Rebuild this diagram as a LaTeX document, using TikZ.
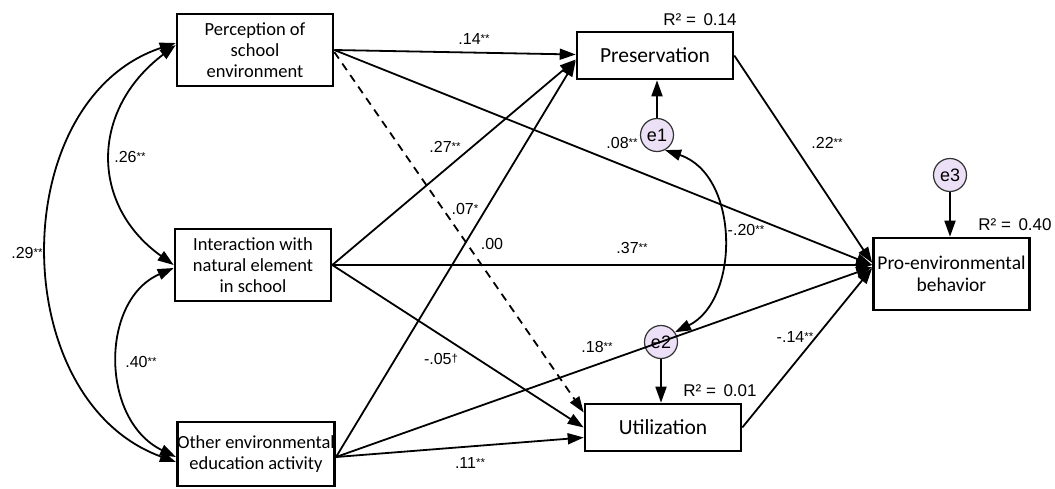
\documentclass[tikz,border=0pt]{standalone}
\usepackage{fontspec}
\setmainfont{Liberation Sans}
\newfontfamily\boxfont{Carlito}
\usetikzlibrary{arrows.meta}
\definecolor{ecol}{RGB}{236,224,246}
\newcommand\sg[1]{\raisebox{2pt}{\fontsize{11.5}{11.5}\selectfont #1}}
\begin{document}
\begin{tikzpicture}[x=1pt,y=-1pt,
 box/.style={draw, line width=2.6pt, minimum width=156pt, inner sep=0pt, align=center, font=\boxfont\fontsize{18.5}{21}\selectfont},
 bigbox/.style={box, font=\boxfont\fontsize{21.5}{22}\selectfont},
 err/.style={circle, draw=black!80, line width=1.2pt, fill=ecol, minimum size=33pt, inner sep=0pt, font=\fontsize{18}{18}\selectfont},
 arr/.style={line width=1.8pt, -{Triangle[length=16pt,width=11pt]}},
 cov/.style={line width=1.8pt, {Triangle[length=16pt,width=11pt]}-{Triangle[length=16pt,width=11pt]}},
 lab/.style={font=\fontsize{16}{16}\selectfont, inner sep=0pt},
 rlab/.style={font=\fontsize{17}{17}\selectfont, inner sep=0pt},
]
\fill[white] (0,0) rectangle (1055,488);
\useasboundingbox (0,0) rectangle (1055,488);

% boxes
\node[box, minimum height=72pt] (pse) at (255,50) {Perception of\\school\\environment};
\node[box, minimum height=72pt] (ines) at (253,265) {Interaction with\\natural element\\in school};
\node[box, minimum height=64pt] (oeea) at (256,454) {Other environmental\\education activity};
\node[bigbox, minimum height=47pt] (pres) at (655,55.5) {Preservation};
\node[bigbox, minimum height=47pt] (util) at (663,427.5) {Utilization};
\node[box, minimum height=72pt, font=\boxfont\fontsize{19.5}{22}\selectfont] (peb) at (951.5,274) {Pro-environmental\\behavior};

% error terms
\node[err] (e1) at (657,135) {e1};
\node[err] (e2) at (661,342) {e2};
\node[err] (e3) at (950,175) {e3};

% target points
\coordinate (pebin) at ([yshift=9pt]peb.west);

% paths to Preservation
\draw[arr] (pse.east) -- ([yshift=1pt]pres.west);
\draw[arr] (ines.east) -- ([yshift=-4pt]pres.west);
\draw[arr] ([yshift=-3pt]oeea.east) -- ([yshift=-5pt]pres.west);

% paths to Utilization
\draw[arr, dashed, dash pattern=on 8pt off 6pt] ([yshift=-2pt]pse.east) -- ([yshift=15pt]util.west);
\draw[arr] (ines.east) -- (util.west);
\draw[arr] ([yshift=-3pt]oeea.east) -- ([yshift=-10pt]util.west);

% paths to Pro-environmental behavior
\draw[arr] (pse.east) -- (pebin);
\draw[arr] (ines.east) -- (pebin);
\draw[arr] ([yshift=-3pt]oeea.east) -- ([yshift=-2pt]pebin);
\draw[arr] (pres.east) -- ([yshift=2pt]pebin);
\draw[arr] (util.east) -- ([yshift=-3pt]pebin);

% error arrows
\draw[arr] (e1) -- (e1 |- pres.south);
\draw[arr] (e2) -- (e2 |- util.north);
\draw[arr] (e3) -- (e3 |- peb.north);
\draw[cov] (e1.-62) .. controls (740,175) and (740,300) .. (e2.35);

% covariances
\draw[cov] ([yshift=5pt]pse.west) .. controls (90,110) and (90,205) .. (ines.west);
\draw[cov] ([yshift=-3pt]ines.west) .. controls (100,300) and (100,420) .. ([yshift=-3pt]oeea.west);
\draw[cov] ([yshift=7pt]pse.west) .. controls (5,100) and (5,400) .. ([yshift=-8pt]oeea.west);

% labels
\node[lab] (l14) at (474,39) {.14\sg{**}};
\node[lab] (l08) at (622,143) {.08\sg{**}};
\node[lab] (l27) at (445,147) {.27\sg{**}};
\node[lab] (l07) at (465,209) {.07\sg{*}};
\node[lab] (l00) at (492,244) {.00};
\node[lab] (l37) at (632,248) {.37\sg{**}};
\node[lab] (l05) at (441,359) {-.05\sg{†}};
\node[lab] (l18) at (597,347) {.18\sg{**}};
\node[lab] (l11) at (470,463) {.11\sg{**}};
\node[lab] (l22) at (827,143) {.22\sg{**}};
\node[lab] (l20) at (746,230) {-.20\sg{**}};
\node[lab] (l14b) at (795,337) {-.14\sg{**}};
\node[lab] (l26) at (130,157) {.26\sg{**}};
\node[lab] (l40) at (141,362) {.40\sg{**}};
\node[lab] (l29) at (27,253) {.29\sg{**}};
\node[rlab] (r1) at (700,20) {R² =\, 0.14};
\node[rlab] (r2) at (720,391) {R² =\, 0.01};
\node[rlab] (r3) at (1015,225) {R² =\, 0.40};
\end{tikzpicture}
\end{document}
